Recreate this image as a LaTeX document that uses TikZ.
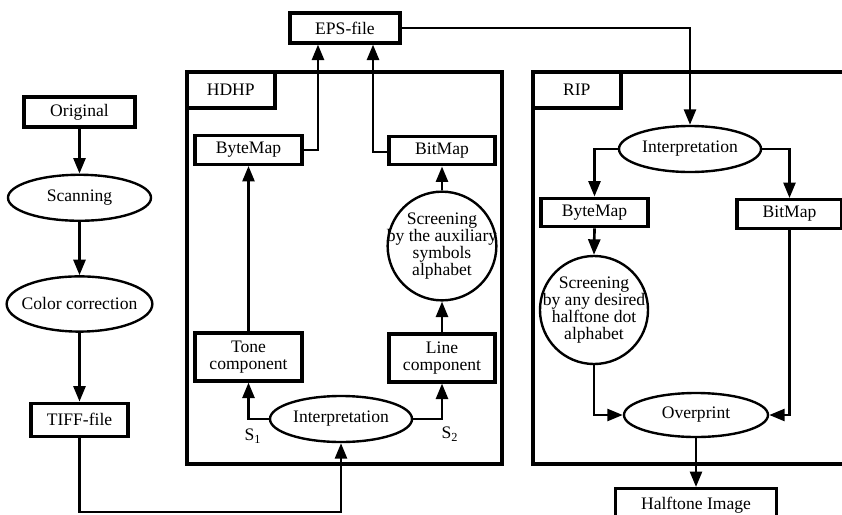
\documentclass[tikz,border=0pt]{standalone}
\usepackage{fontspec}
\setmainfont{Liberation Serif}
\usepackage{tikz}
\usetikzlibrary{
    arrows.meta,
    calc,
    positioning,
    shapes.geometric
}
\tikzstyle{block}=[
    rectangle,
    draw,
    line width=2.2pt,
    inner sep=0pt,
    align=center,
    minimum width=2.675cm,
    minimum height=0.72cm
]
\tikzstyle{oval}=[
    ellipse,
    draw,
    line width=1.7pt,
    inner sep=0pt,
    align=center,
    minimum width=3.55cm,
    minimum height=1.15cm
]
\tikzstyle{arrow}=[line width=1.9pt,-{Triangle[length=11pt,width=8.5pt]}]

\begin{document}
\begin{tikzpicture}[
    x=0.025cm,y=-0.025cm,
    font=\fontsize{12.5}{12.2}\selectfont,
    frame/.style={rectangle,draw,line width=2.8pt,inner sep=0pt},
    tag/.style={rectangle,draw,line width=2.5pt,inner sep=0pt,
    minimum width=2.2cm,minimum height=0.9cm},
    disc/.style={circle,draw,line width=1.7pt,inner xsep=-6pt,inner ysep=-4pt,
    minimum size=2.7cm,align=center}
]
\useasboundingbox (0,0) rectangle (842,514);
\clip (0,0) rectangle (842,514);
\node[frame,minimum width=7.875cm,minimum height=9.8cm] (hdhp) at (344.5,268) {};
\node[frame,minimum width=8.175cm,minimum height=9.8cm] (rip) at (696.5,268) {};
\node[tag,anchor=north west] (hdhptag) at (hdhp.north west) {HDHP};
\node[tag,anchor=north west] (riptag) at (rip.north west) {RIP};
\node[block,minimum width=2.775cm,minimum height=0.75cm] (orig) at (79.5,112) {Original};
\node[oval,minimum width=3.575cm,below=1.125cm of orig] (scan) {Scanning};
\node[oval,minimum width=3.575cm,minimum height=1.38cm,inner xsep=-4.5pt,below=1.33cm of scan] (colcor) {Color correction};
\node[block,minimum width=2.425cm,minimum height=0.825cm,below=1.72cm of colcor] (tiff) {TIFF-file};
\node[block,minimum width=2.75cm,minimum height=0.75cm] (eps) at (345,28) {EPS-file};
\node[oval] (hint) at (341,419) {Interpretation};
\node[block,minimum height=1.2cm] (tone) at (248.5,357) {Tone\\component};
\node[block,minimum width=2.65cm,minimum height=1.2cm] (linec) at (442,358) {Line\\component};
\node[disc] (hscreen) at (442,246) {Screening\\by the auxiliary\\symbols\\alphabet};
\node[block] (hbyte) at (248.5,150) {ByteMap};
\node[block,minimum width=2.65cm] (hbit) at (442,150.5) {BitMap};
\node at (253,436) {S\textsubscript{1}};
\node at (450,434) {S\textsubscript{2}};
\node[oval] (rint) at (690,149) {Interpretation};
\node[block] (rbyte) at (594.5,212.5) {ByteMap};
\node[block,minimum width=2.625cm] (rbit) at (789.5,214) {BitMap};
\node[disc] (rscreen) at (594,310) {Screening\\by any desired\\halftone dot\\alphabet};
\node[oval,minimum width=3.6cm,minimum height=1.1cm] (over) at (696,415) {Overprint};
\node[block,minimum width=4.025cm,minimum height=0.85cm,anchor=north] (half) at (696,487) {Halftone Image};
\coordinate (tiffturn) at (341,512);
\draw[arrow] (orig) -- (scan);
\draw[arrow] (scan) -- (colcor);
\draw[arrow] (colcor) -- (tiff);
\draw[arrow] (tiff.south) |- (tiffturn) -- (hint.south);
\draw[arrow] (hint.west) -| (tone.south);
\draw[arrow] (hint.east) -| (linec.south);
\draw[arrow] (tone.north) -- (hbyte.south);
\draw[arrow] (linec.north) -- (hscreen.south);
\draw[arrow] (hscreen.north) -- (hbit.south);
\draw[arrow] (hbyte.east) -| ([xshift=-0.675cm]eps.south);
\draw[arrow] ([yshift=-0.04cm]hbit.west) -| ([xshift=0.7cm]eps.south);
\draw[arrow] (eps.east) -| (rint.north);
\draw[arrow] (rint.west) -| (rbyte.north);
\draw[arrow] (rint.east) -| (rbit.north);
\draw[arrow] (rbyte.south) -- (rscreen.north);
\draw[arrow] (rscreen.south) |- (over.west);
\draw[arrow] (rbit.south) |- (over.east);
\draw[arrow] (over.south) -- (half.north);
\end{tikzpicture}
\end{document}
